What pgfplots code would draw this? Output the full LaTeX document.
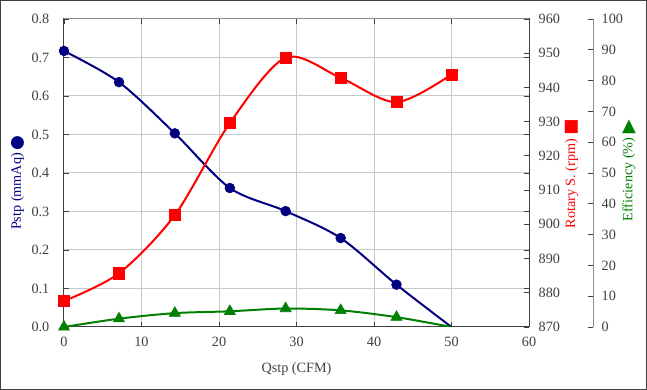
\documentclass[border=0pt]{standalone}
\usepackage{fontspec}
\setmainfont{Liberation Serif}
\newfontfamily\symf{DejaVu Sans}
\usepackage{graphicx}
\usepackage{pgfplots}
\pgfplotsset{compat=1.18}
\definecolor{navy}{HTML}{000080}
\definecolor{dgreen}{HTML}{008000}
\definecolor{txt}{HTML}{404040}
\definecolor{gridc}{HTML}{C8C8C8}
\definecolor{framec}{HTML}{8C8C8C}
\begin{document}
\begin{tikzpicture}[font=\fontsize{14.2}{16}\selectfont]
\pgfplotsset{
  base/.style={
    scale only axis, width=465pt, height=308pt,
    at={(0,0)}, anchor=south west,
    xmin=0, xmax=60,
    tick align=inside, major tick length=5pt,
    tick style={txt, line width=0.8pt},
    ticklabel style={txt},
    /pgf/number format/assume math mode=true,
  }
}
% primary axis: Pstp
\begin{axis}[base,
  ymin=0, ymax=0.8,
  ytick={0,0.1,0.2,0.3,0.4,0.5,0.6,0.7,0.8},
  xtick={0,10,20,30,40,50,60},
  grid=major, grid style={gridc, line width=1pt},
  axis line style={txt, line width=1pt},
  yticklabel style={/pgf/number format/fixed, /pgf/number format/fixed zerofill, /pgf/number format/precision=1, xshift=-11.2pt},
  xticklabel style={yshift=-6.2pt},
  xlabel={Qstp (CFM)},
  xlabel style={at={(axis description cs:0.5,0)}, anchor=center, yshift=-42pt, txt},
]
\draw[framec, line width=1pt] (rel axis cs:0,1) -- (rel axis cs:1,1);
\addplot[navy, line width=2pt, smooth, mark=*, mark size=4.9pt, mark options={fill=navy, solid, line width=0.6pt}, mark indices={1,2,3,4,5,6,7}]
  coordinates {(0,0.717)(7.1,0.636)(14.3,0.503)(21.4,0.361)(28.6,0.301)(35.7,0.231)(42.9,0.110)(50,0)};
\end{axis}
% secondary axis: Rotary speed
\begin{axis}[base,
  ymin=870, ymax=960,
  ytick={870,880,890,900,910,920,930,940,950,960},
  axis y line*=right, hide x axis,
  axis line style={txt, line width=1pt},
  yticklabel style={xshift=6.2pt},
]
\addplot[red, line width=2pt, smooth, mark=square*, mark size=5.6pt, mark options={fill=red, solid, line width=0.6pt}]
  coordinates {(0,877.6)(7.1,885.7)(14.3,902.7)(21.4,929.6)(28.6,948.7)(35.7,942.8)(42.9,935.7)(50,943.8)};
\end{axis}
% efficiency data (hidden axes)
\begin{axis}[base, ymin=0, ymax=100, hide axis]
\addplot[dgreen, line width=2pt, smooth, mark=triangle*, mark size=6.4pt, mark options={fill=dgreen, solid, line width=0.6pt}, mark indices={1,2,3,4,5,6,7}]
  coordinates {(0,0)(7.1,2.7)(14.3,4.5)(21.4,5.1)(28.6,6.0)(35.7,5.4)(42.9,3.2)(50,0)};
\end{axis}
% efficiency y axis, offset
\begin{axis}[base, at={(64pt,0)},
  ymin=0, ymax=100,
  ytick={0,10,20,30,40,50,60,70,80,90,100},
  axis y line*=right, hide x axis,
  axis line style={framec, line width=1pt},
  yticklabel style={xshift=5.2pt},
]
\end{axis}
% axis titles
\node[rotate=90, navy] at (-46.5pt,135.5pt) {Pstp (mmAq)};
\node[navy, inner sep=0pt] at (-46.5pt,184pt) {\symf\fontsize{17}{17}\selectfont ●};
\node[rotate=90, red] at (507.7pt,143.5pt) {Rotary S. (rpm)};
\node[red, inner sep=0pt] at (507.5pt,200pt) {\symf\fontsize{17}{17}\selectfont ■};
\node[rotate=90, dgreen] at (565pt,147.5pt) {Efficiency (\%)};
\node[dgreen, inner sep=0pt] at (565pt,200pt) {\symf\fontsize{18}{18}\selectfont ▲};
% outer frame
\pgfresetboundingbox
\draw[txt, line width=1pt] (-63.5pt,-62.5pt) rectangle (582.5pt,326.5pt);
\end{tikzpicture}
\end{document}
